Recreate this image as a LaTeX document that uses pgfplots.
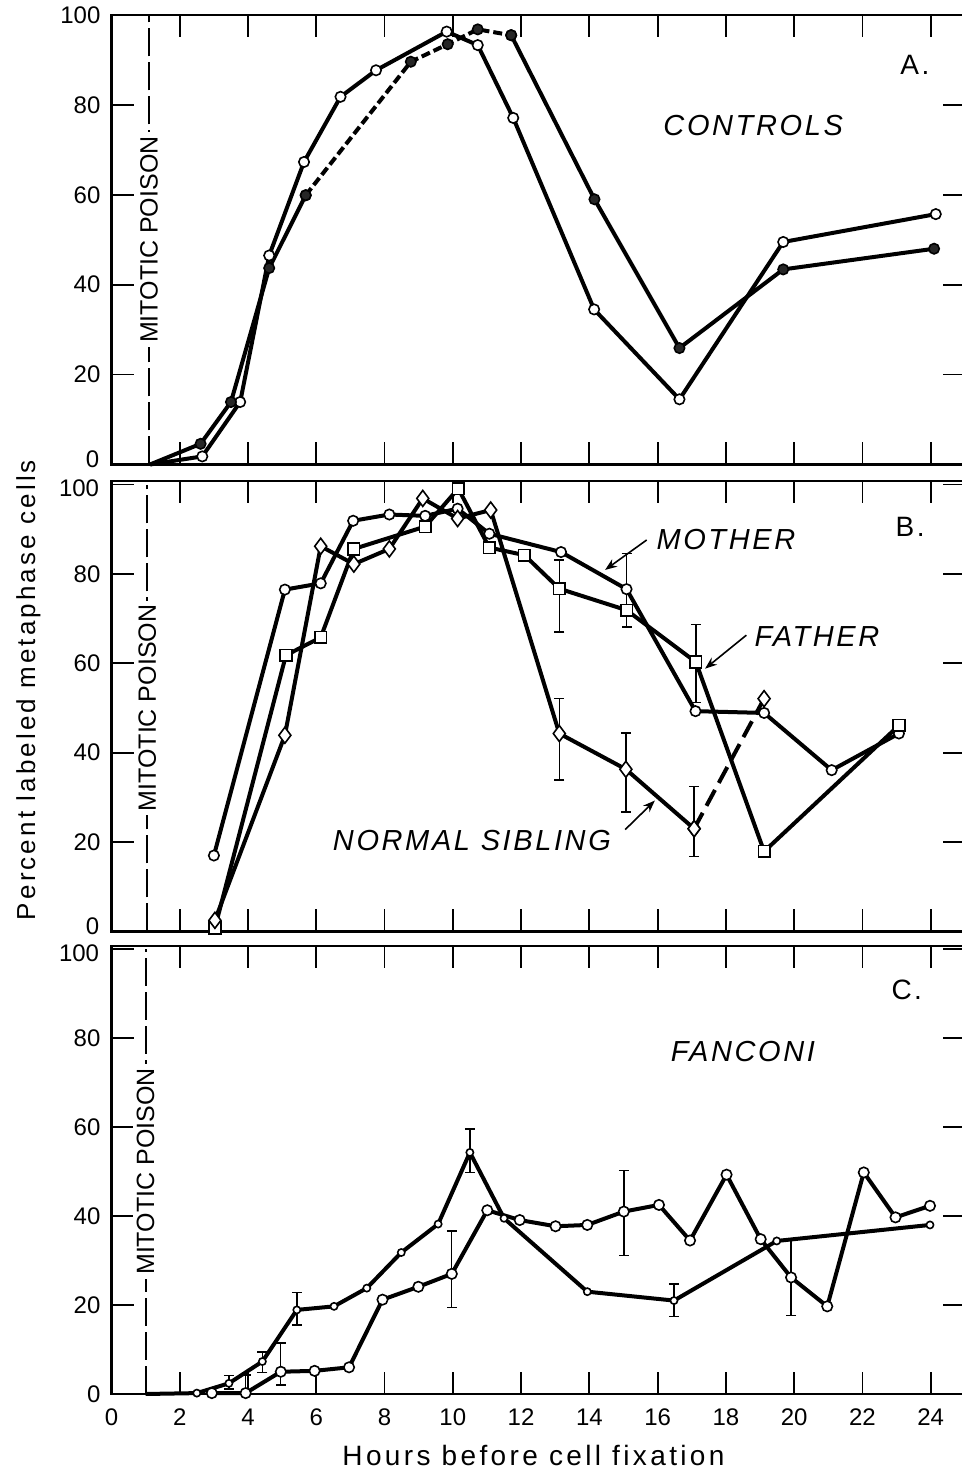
\documentclass[border=0pt]{standalone}
\usepackage{fontspec}
\setmainfont{Liberation Sans}
\newfontfamily\spaced{Liberation Sans}[LetterSpace=12]
\newfontfamily\lab{Liberation Sans}[LetterSpace=9]
\usepackage{pgfplots}
\pgfplotsset{compat=1.18}
\usetikzlibrary{arrows.meta}

\pgfplotsset{
  panel/.style={
    scale only axis, width=426.65pt, anchor=south west,
    xmin=0, xmax=25, ymin=0, clip=false,
    axis line style={line width=1.4pt},
    tick align=inside, major tick length=11pt,
    tick style={black, line width=0.9pt},
    xtick={0,2,...,24}, ytick={0,20,...,100},
    tick label style={font=\fontsize{12}{14}\selectfont},
    yticklabel style={xshift=-2pt, inner ysep=0pt},
    xticklabel style={yshift=-4pt},
    /pgf/number format/assume math mode=true,
  },
  dat/.style={black, line width=2pt},
  opn/.style={dat, mark=*, mark size=2.6pt, mark options={solid, fill=white, line width=0.8pt}},
  sml/.style={dat, mark=*, mark size=1.8pt, mark options={solid, fill=white, line width=0.8pt}},
  ful/.style={dat, mark=*, mark size=2.6pt, mark options={solid, fill=black!85, line width=0.8pt}},
  sqr/.style={dat, mark=square*, mark size=2.9pt, mark options={solid, fill=white, line width=0.8pt}},
  dia/.style={dat, mark=diamond*, mark size=4pt, mark options={solid, fill=white, line width=0.8pt}},
  ebar/.style={draw=none, mark=none, mark size=2.5pt, forget plot,
    error bars/.cd, y dir=both, y explicit,
    error bar style={draw=black, solid, line width=0.7pt},
    error mark options={rotate=90, draw=black, solid, line width=0.7pt}},
}

% dashed "mitotic poison" marker line
\newcommand\poison[1]{%
  \draw[black, line width=1pt, dash pattern=on 14pt off 3pt] (axis cs:#1,0) -- (axis cs:#1,100);
  \node[fill=white, inner sep=2pt, rotate=90, font=\fontsize{12.5}{14}\selectfont] at (axis cs:#1,50) {MITOTIC POISON};
}
% end labels of the y axis, nudged apart where two panels meet
\newcommand\zerolab{\node[anchor=east, inner sep=0pt, font=\fontsize{12}{14}\selectfont] at (axis cs:0,0) [xshift=-6pt, yshift=2.5pt] {0};}
\newcommand\hundlab{\node[anchor=east, inner sep=0pt, font=\fontsize{12}{14}\selectfont] at (axis cs:0,100) [xshift=-6pt, yshift=-2pt] {100};}

\begin{document}
\begin{tikzpicture}

% ---------- A. controls ----------
\begin{axis}[panel, at={(55.75pt,504.75pt)}, height=224.75pt, ymax=100, xticklabels={},
  yticklabels={,20,40,60,80,100}]
\poison{1.1}
\zerolab
\addplot[opn, mark phase=2] coordinates {
  (1.13,0) (2.66,1.8) (3.77,13.9) (4.62,46.5) (5.64,67.3) (6.71,81.8) (7.75,87.7)
  (9.82,96.3) (10.73,93.3) (11.77,77.1) (14.14,34.5) (16.64,14.5) (19.68,49.5) (24.15,55.7)
};
\addplot[ful, mark phase=2] coordinates {
  (1.13,0) (2.61,4.6) (3.50,13.9) (4.62,43.7) (5.69,59.9)
};
\addplot[ful, dash pattern=on 4.5pt off 2pt] coordinates {
  (5.69,59.9) (8.77,89.6) (9.85,93.5) (10.73,96.8) (11.71,95.5)
};
\addplot[ful] coordinates {
  (11.71,95.5) (14.15,59.0) (16.64,25.9) (19.68,43.4) (24.1,48.0)
};
\node[font=\lab\fontsize{14}{16}\selectfont] at (axis cs:23.54,88.9) {A.};
\node[font=\lab\itshape\fontsize{14.5}{16}\selectfont] at (axis cs:18.8,75.3) {CONTROLS};
\end{axis}

% ---------- B. family ----------
\begin{axis}[panel, at={(55.75pt,271.25pt)}, height=225.25pt, ymax=100.8, xticklabels={},
  yticklabels={,20,40,60,80,}]
\poison{1.05}
\zerolab
\hundlab
\addplot[opn] coordinates {
  (3.0,17.0) (5.08,76.5) (6.13,77.9) (7.08,91.9) (8.14,93.3) (9.19,93.0) (10.14,94.6)
  (11.07,89.0) (13.17,84.9) (15.09,76.6) (17.11,49.3) (19.12,48.9) (21.1,36.1) (23.07,44.3)
};
\addplot[sqr] coordinates {
  (3.03,0.8) (5.11,61.8) (6.13,65.8) (7.10,85.6) (9.19,90.6) (10.16,99.1) (11.07,85.9)
  (12.1,84.2) (13.12,76.7) (15.09,71.9) (17.12,60.3) (19.12,17.9) (23.07,46.1)
};
\addplot[dia] coordinates {
  (3.03,2.5) (5.08,43.9) (6.13,86.2) (7.10,82.2) (8.14,85.6) (9.12,96.9) (10.14,92.4)
  (11.11,94.3) (13.12,44.3) (15.07,36.3) (17.07,23.0)
};
\addplot[dia, dash pattern=on 9pt off 4pt] coordinates {
  (17.07,23.0) (19.12,52.1)
};
\addplot[ebar] coordinates {
  (13.12,75.05) +- (0,8.05)
  (15.09,76.35) +- (0,8.25)
  (17.12,59.95) +- (0,8.75)
  (13.12,43.0) +- (0,9.1)
  (15.07,35.55) +- (0,8.85)
  (17.07,24.65) +- (0,7.85)
};
\node[font=\lab\fontsize{14}{16}\selectfont] at (axis cs:23.4,90.5) {B.};
\node[font=\lab\itshape\fontsize{14.5}{16}\selectfont] at (axis cs:18.0,87.8) {MOTHER};
\node[font=\lab\itshape\fontsize{14.5}{16}\selectfont] at (axis cs:20.67,66.1) {FATHER};
\node[font=\lab\itshape\fontsize{14.5}{16}\selectfont] at (axis cs:10.56,20.4) {NORMAL SIBLING};
\draw[-{Stealth[length=6pt,width=4.5pt]}, line width=0.8pt] (axis cs:15.68,87.6) -- (axis cs:14.46,80.9);
\draw[-{Stealth[length=6pt,width=4.5pt]}, line width=0.8pt] (axis cs:18.6,66.3) -- (axis cs:17.39,58.8);
\draw[-{Stealth[length=6pt,width=4.5pt]}, line width=0.8pt] (axis cs:15.05,22.8) -- (axis cs:15.92,29.3);
\end{axis}

% ---------- C. Fanconi ----------
\begin{axis}[panel, at={(55.75pt,40pt)}, height=224pt, ymax=100.7,
  yticklabels={0,20,40,60,80,}]
\poison{1.0}
\hundlab
\addplot[sml, mark phase=2] coordinates {
  (1.0,0) (2.5,0.2) (3.44,2.4) (4.42,7.3) (5.43,18.9) (6.52,19.7) (7.48,23.8) (8.49,31.8)
  (9.57,38.2) (10.5,54.3) (11.5,39.5) (13.94,23.0) (16.48,21.0) (19.49,34.4) (23.98,38.0)
};
\addplot[opn] coordinates {
  (2.94,0.2) (3.93,0.2) (4.96,5.0) (5.95,5.2) (6.96,6.0) (7.94,21.2) (8.99,24.1) (9.97,27.0)
  (11.01,41.3) (11.96,39.1) (13.01,37.7) (13.94,38.0) (15.01,41.0) (16.04,42.5) (16.95,34.5)
  (18.02,49.3) (19.02,34.8) (19.91,26.2) (20.97,19.7) (22.04,49.8) (22.97,39.7) (23.98,42.3)
};
\addplot[ebar] coordinates {
  (3.44,2.6) +- (0,1.5)
  (3.93,2.15) +- (0,2.15)
  (4.42,7.15) +- (0,2.25)
  (4.96,6.75) +- (0,4.75)
  (5.43,19.15) +- (0,3.65)
  (9.97,28.05) +- (0,8.55)
  (10.5,54.7) +- (0,4.9)
  (15.01,40.65) +- (0,9.55)
  (16.48,21.05) +- (0,3.65)
  (19.91,26.05) +- (0,8.45)
};
\node[font=\lab\fontsize{14}{16}\selectfont] at (axis cs:23.3,90.8) {C.};
\node[font=\lab\itshape\fontsize{14.5}{16}\selectfont] at (axis cs:18.5,76.9) {FANCONI};
\end{axis}

\node[font=\spaced\fontsize{14}{16}\selectfont, anchor=base] at (266.75pt,4.5pt) {Hours before cell fixation};
\node[font=\spaced\fontsize{13}{16}\selectfont, anchor=base, rotate=90] at (17.5pt,392pt) {Percent labeled metaphase cells};

\pgfresetboundingbox
\path[use as bounding box] (0,0) rectangle (481pt,737pt);
\end{tikzpicture}
\end{document}
